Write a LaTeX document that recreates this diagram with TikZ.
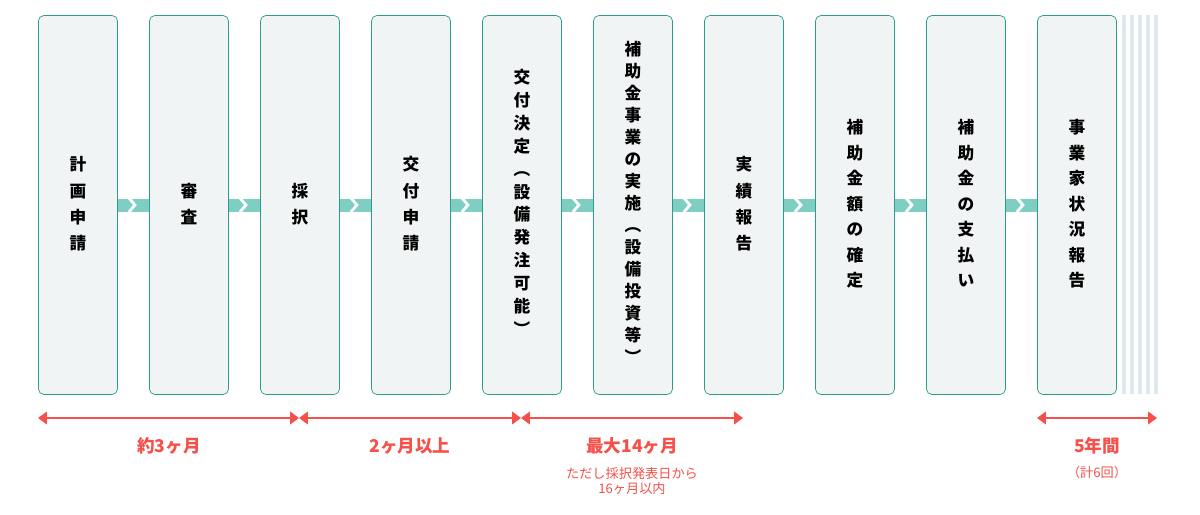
\documentclass[tikz,border=0pt]{standalone}
\usepackage{fontspec}
\setmainfont{Noto Sans CJK JP}
\usetikzlibrary{arrows.meta, calc}
\definecolor{boxline}{HTML}{2A9D8F}
\definecolor{boxfill}{HTML}{F0F4F4}
\definecolor{flow}{HTML}{7ECFC2}
\definecolor{stripe}{HTML}{DDE9EC}
\definecolor{span}{HTML}{F5504A}
\tikzset{
    stepbox/.style={draw=boxline, fill=boxfill, rounded corners=3pt, minimum width=1.58cm, minimum height=7.58cm, inner sep=0pt},
    period/.style={draw=span, line width=1.2pt, {Triangle[length=5pt,width=7pt]}-{Triangle[length=5pt,width=7pt]}},
    label/.style={text=span, font=\bfseries\fontsize{10}{12}\selectfont},
    note/.style={text=span, font=\fontsize{7.5}{9}\selectfont, align=center}
}
\newcommand{\tate}[2]{\fontsize{9.5}{#1}\selectfont\bfseries\begin{tabular}{@{}c@{}}#2\end{tabular}}
\begin{document}
\begin{tikzpicture}[x=0.02cm, y=-0.02cm]
        \useasboundingbox (0, 0) rectangle (1200, 514);

        % stripes after the last step
        \foreach \x in {1122, 1130, ..., 1154}{
            \fill[stripe] (\x, 15) rectangle (\x+3.5, 394);
        }

        % the steps
        \node[stepbox] (b1) at (78, 205) {};
        \node[stepbox] (b2) at (189, 205) {};
        \node[stepbox] (b3) at (300, 205) {};
        \node[stepbox] (b4) at (411, 205) {};
        \node[stepbox] (b5) at (522, 205) {};
        \node[stepbox] (b6) at (633, 205) {};
        \node[stepbox] (b7) at (744, 205) {};
        \node[stepbox] (b8) at (855, 205) {};
        \node[stepbox] (b9) at (966, 205) {};
        \node[stepbox] (b10) at (1077, 205) {};

        \foreach \i/\j in {1/2, 2/3, 3/4, 4/5, 5/6, 6/7, 7/8, 8/9, 9/10}{
            \fill[flow] (b\i.east) ++(0, -6.5) rectangle ([yshift=-0.13cm]b\j.west);
            \draw[white, line width=1.6pt] ($(b\i.east)!0.45!(b\j.west)$) ++(-3, -7) -- ++(6, 7) -- ++(-6, 7);
        }

        % texts
        \node (t1) at (b1) {\tate{15pt}{計\\画\\申\\請}};
        \node (t2) at (b2) {\tate{15pt}{審\\査}};
        \node (t3) at (b3) {\tate{15pt}{採\\択}};
        \node (t4) at (b4) {\tate{15pt}{交\\付\\申\\請}};
        \node (t5) at (b5) {\tate{13pt}{交\\付\\決\\定\\︵\\設\\備\\発\\注\\可\\能\\︶}};
        \node (t6) at (b6) {\tate{12.5pt}{補\\助\\金\\事\\業\\の\\実\\施\\︵\\設\\備\\投\\資\\等\\︶}};
        \node (t7) at (b7) {\tate{15pt}{実\\績\\報\\告}};
        \node (t8) at (b8) {\tate{14.5pt}{補\\助\\金\\額\\の\\確\\定}};
        \node (t9) at (b9) {\tate{14.5pt}{補\\助\\金\\の\\支\\払\\い}};
        \node (t10) at (b10) {\tate{14.5pt}{事\\業\\家\\状\\況\\報\\告}};

        % periods
        \coordinate (p0) at (38, 418);
        \coordinate (p1) at (299, 418);
        \coordinate (p2) at (521, 418);
        \coordinate (p3) at (743, 418);
        \coordinate (p4) at (1037, 418);
        \coordinate (p5) at (1157, 418);
        \draw[period] (p0) -- (p1);
        \draw[period] (p1) -- (p2);
        \draw[period] (p2) -- (p3);
        \draw[period] (p4) -- (p5);
        \node[label] (l1) at (169, 446) {約3ヶ月};
        \node[label] (l2) at (410, 446) {2ヶ月以上};
        \node[label] (l3) at (632, 446) {最大14ヶ月};
        \node[note] (n3) at (632, 481) {ただし採択発表日から\\16ヶ月以内};
        \node[label] (l4) at (1097, 446) {5年間};
        \node[note] (n4) at (1097, 472) {（計6回）};
    \end{tikzpicture}
\end{document}
